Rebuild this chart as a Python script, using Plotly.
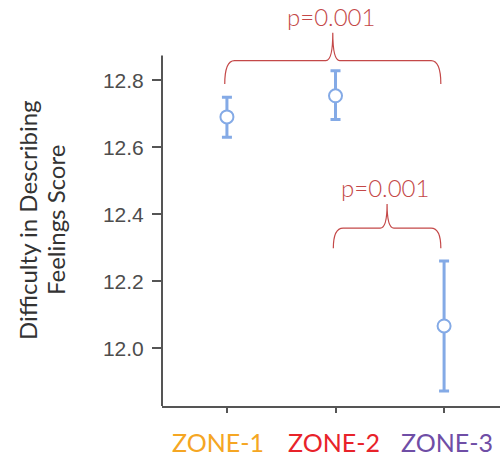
import plotly.graph_objects as go

# Group means with lower/upper confidence limits
zones = ["ZONE-1", "ZONE-2", "ZONE-3"]
zone_colors = ["#f5a623", "#e8232a", "#6f4ea6"]
means = [12.691, 12.754, 12.067]
upper = [12.750, 12.829, 12.261]
lower = [12.630, 12.683, 11.873]

# Pairwise comparisons: (first group, second group, label, bracket level)
comparisons = [
    (0, 2, "p=0.001", 12.859),
    (1, 2, "p=0.001", 12.359),
]

y_ticks = [12.0, 12.2, 12.4, 12.6, 12.8]
y_title_lines = ["Difficulty in Describing", "Feelings Score"]
y_bottom, y_axis_top, y_view_top = 11.828, 12.874, 13.040
x_range = [-0.598, 2.515]

x = list(range(len(zones)))
point_color = "#84aae6"
brace_color = "#c44848"

fig = go.Figure()
fig.add_trace(go.Scatter(
    x=x, y=means, mode="markers",
    marker=dict(symbol="circle", size=13, color="white",
                line=dict(color=point_color, width=2)),
    error_y=dict(type="data", symmetric=False,
                 array=[u - m for u, m in zip(upper, means)],
                 arrayminus=[m - l for m, l in zip(means, lower)],
                 color=point_color, thickness=3, width=5),
    cliponaxis=False, showlegend=False,
))

shapes = []
annotations = []
for a, b, label, level in comparisons:
    x0, x1 = a - 0.02, b - 0.03
    xm = (x0 + x1) / 2
    drop = 0.070 if level > 12.6 else 0.060
    cusp = 0.083 if level > 12.6 else 0.072
    r = 0.09
    path = (f"M {x0},{level - drop} Q {x0},{level} {x0 + r},{level} "
            f"L {xm - r * 0.7},{level} Q {xm},{level} {xm},{level + cusp} "
            f"Q {xm},{level} {xm + r * 0.7},{level} "
            f"L {x1 - r},{level} Q {x1},{level} {x1},{level - drop}")
    shapes.append(dict(type="path", path=path, xref="x", yref="y",
                       line=dict(color=brace_color, width=1.2)))
    annotations.append(dict(x=xm - 0.02, y=level + cusp, xref="x", yref="y",
                            text=label, showarrow=False, yanchor="bottom",
                            font=dict(family="Lato", size=24, color=brace_color, weight=300)))

# y-axis line stops just above the top tick
shapes.append(dict(type="line", xref="paper", yref="y", x0=0, x1=0,
                   y0=y_bottom, y1=y_axis_top, line=dict(color="#555555", width=2)))

# Category labels under the ticks, spread slightly wider than the ticks
label_shift = [-9, -2, 3]
for xi, z, c, s in zip(x, zones, zone_colors, label_shift):
    annotations.append(dict(x=xi, y=0, xref="x", yref="paper", yanchor="middle",
                            yshift=-36, xshift=s, text=z, showarrow=False,
                            borderpad=0,
                            font=dict(family="Lato", size=25, color=c)))

# Two-line y-axis title
for line, px in zip(y_title_lines, [27, 55]):
    annotations.append(dict(
        x=(px - 162) / 338, y=0.458, xref="paper", yref="paper", textangle=-90,
        xanchor="center", yanchor="middle", text=line, showarrow=False,
        font=dict(family="Lato", size=24, color="#333333"),
    ))

fig.update_layout(
    width=500, height=457,
    margin=dict(l=162, r=0, t=0, b=51),
    paper_bgcolor="white", plot_bgcolor="white",
    shapes=shapes, annotations=annotations,
    xaxis=dict(range=x_range, tickvals=x, showticklabels=False,
               showline=True, linecolor="#555555", linewidth=2,
               ticks="outside", ticklen=5, tickwidth=2, tickcolor="#555555",
               showgrid=False, zeroline=False),
    yaxis=dict(range=[y_bottom, y_view_top], tickvals=y_ticks,
               ticktext=[f"{v:.1f}" for v in y_ticks],
               showline=False, ticks="outside", ticklen=9, tickwidth=2,
               tickcolor="#555555", showgrid=False, zeroline=False,
               tickfont=dict(family="Liberation Sans", size=21, color="#4d4d4d"),
               ticklabelstandoff=4),
)

fig.write_html("out.html")
